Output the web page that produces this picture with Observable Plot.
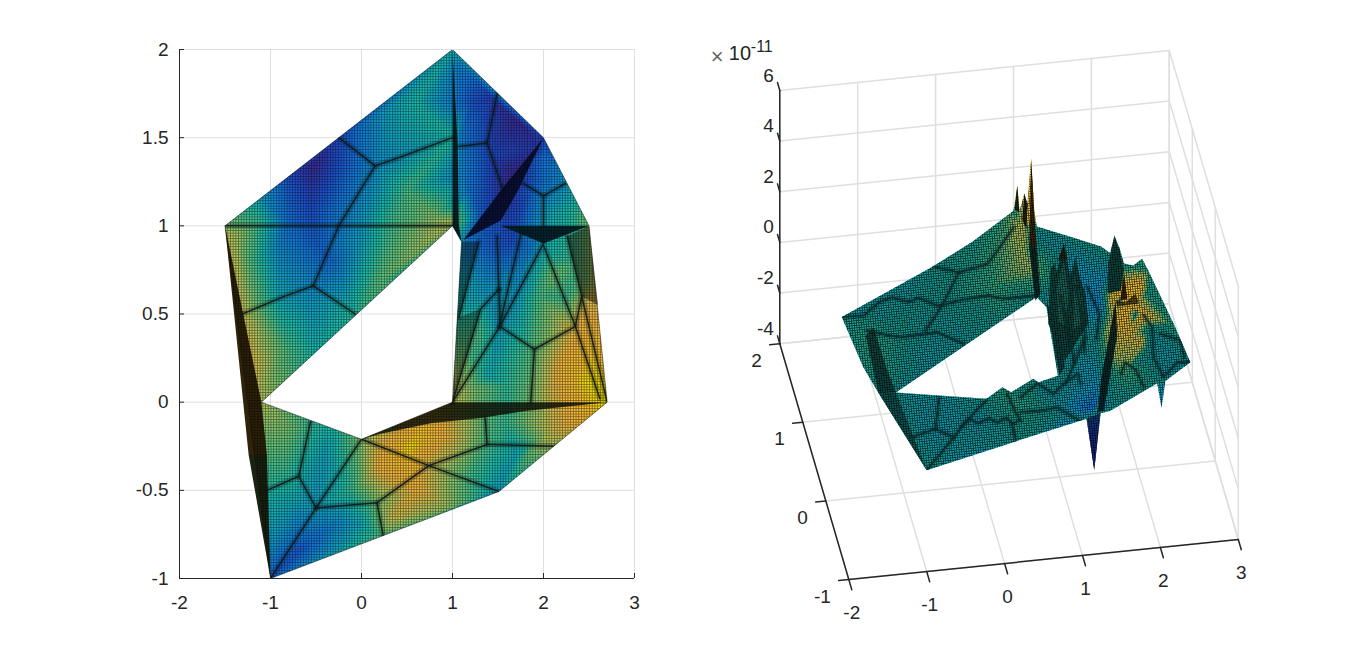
<!DOCTYPE html>
<html><head><meta charset="utf-8">
<script src="https://cdn.jsdelivr.net/npm/d3@7"></script>
<script src="https://cdn.jsdelivr.net/npm/@observablehq/plot@0.6"></script>
<style>html,body{margin:0;padding:0;background:#fff;overflow:hidden}#c{position:relative;width:1366px;height:652px}#c svg{position:absolute;top:0;background:transparent}</style>
</head><body><div id="c"></div>
<script>
// ---------- axes
const xTicks=[-2,-1,0,1,2,3];
const yTicksLeft=[-1,-0.5,0,0.5,1,1.5,2];
const yTicks3d=[-1,0,1,2];
const zTicks=[-4,-2,0,2,4,6];
// ---------- left panel: shape of the domain
const outlineLeft=[[-1.5,1],[1,2],[2,1.5],[2.5,1],[2.7,0],[1.51,-0.507],[-1,-1]];
const holeLeft=[[-1.1,0],[0,-0.21],[1,0],[1.1,0.91],[1,1]];
// left panel: scalar read at points of the domain (x, y, colour position)
const fieldLeft=[
[-1.5,1,.5],[-1.2,1.2,.3],[-.53,1.35,0],[-.8,1.3,.08],[-.56,1.1,.08],[-.25,1.5,.08],[.15,1.34,.22],[.3,1.67,.28],[1,2,.32],[.6,1.7,.35],[1,1.5,.35],[.5,1.2,.42],[.8,1.05,.5],[0,1.05,.25],[.3,1.02,.4],[1,1.02,.55],[-1.1,1.03,.38],[-.8,1.02,.15],
[-1.45,.93,.58],[-1.2,.8,.42],[-.9,.9,.2],[-.5,.9,.12],[-.3,.8,.15],[0,.9,.28],[.3,.9,.42],[.8,.95,.55],[.2,.68,.45],[-.07,.5,.38],[-.55,.6,.24],[-.9,.55,.32],[-1.3,.5,.58],[-1.2,.2,.62],[-.8,.3,.42],[-.5,.28,.34],[-1.1,.05,.55],
[-1.1,0,.55],[-.8,-.15,.48],[-.56,-.11,.4],[-.3,-.15,.34],[0,-.21,.5],[-.4,-.3,.28],[-.85,-.35,.42],[-1.04,-.5,.36],[-.7,-.55,.3],[-1,-.8,.25],[-1,-1,.12],[-.7,-.85,.1],[-.5,-.6,.27],[-.3,-.7,.2],[0,-.7,.3],[.24,-.76,.45],[.17,-.57,.48],[-.1,-.5,.4],[.21,-.36,.67],[.1,-.18,.55],[.54,-.25,.76],[.74,-.36,.6],[.62,-.49,.66],[.35,-.65,.6],[1,-.6,.5],[1.5,-.5,.28],[1.2,-.4,.42],[1.38,-.24,.42],[1.7,-.3,.3],[.95,-.2,.64],[.75,-.1,.7],[1.36,-.1,.45],[1.6,-.12,.4],[1.8,-.12,.48],[2.1,-.15,.6],[2.4,-.1,.68],
[2.7,0,.78],[2.45,.12,.76],[2.2,.2,.67],[2.3,.4,.62],[2.1,.1,.62],[1.9,.05,.5],[1.86,.3,.43],[1.6,.1,.38],[1.4,.15,.32],[1.2,.08,.5],[1.52,.4,.28],[1.7,.55,.28],[1.95,.6,.42],[2.1,.72,.48],[2,.85,.32],[1.75,.75,.22],[2.35,.43,.62],[2.45,.5,.65],[2.55,.3,.72],[2.6,.7,.55],[2.4,.8,.42],[2.5,.97,.48],[2.35,.9,.4],[2.25,.6,.4],
[1.2,.75,.25],[1.1,.85,.2],[1.1,.5,.35],[1.15,.3,.45],[1.3,.4,.42],[1.35,.65,.25],[1.45,.85,.12],[1.6,.8,.15],[1.65,.92,.08],[1.85,.85,.18],[1.05,.1,.55],
[1.05,1.9,.2],[1.2,1.7,.1],[1.45,1.72,.05],[1.7,1.6,0],[1.65,1.3,0],[1.95,1.45,.04],[1.4,1.4,.08],[1.1,1.5,.18],[1.2,1.2,.15],[1.1,1.3,.2],[1.4,1.2,.08],[1.3,1.05,.12],[1.55,1.15,.02],[1.75,1.1,.08],[1.9,1.25,.12],[2,1.4,.15],[2.15,1.3,.2],[2.05,1.05,.3],[2.3,1.1,.35],[2.45,1.03,.45],[2.2,1.25,.22],[1.6,1.02,.08],[2,1.5,.08]];
// left panel: thin collapsed strips of the mesh
const stripLeftEdgeUpper=[[-1.5,1],[-1.1,0],[-1.04,-.3],[-1.24,-.3]];
const stripLeftEdgeLower=[[-1.24,-.3],[-1.04,-.3],[-1,-1]];
const stripCentre=[[1,2],[1,1],[1.1,.91],[1.07,1],[1.055,1.48]];
const stripDiagonal=[[2,1.5],[1.53,1.2],[1.12,.92],[1.53,1.03],[1.72,1.2]];
const stripTop=[[1.53,1],[2.5,1],[2,.9]];
const stripBottom=[[0,-.21],[1,0],[2.7,0],[1.8,-.05],[1.31,-.09],[.76,-.12],[.2,-.18]];
const cellDarkA=[[1.1,.91],[1.29,.91],[1.07,.48],[1,0]];
const cellDarkB=[[1.07,.48],[1.31,.53],[1,0]];
const cellDarkC=[[2.26,.94],[2.5,1],[2.6,.55],[2.42,.6]];
// left panel: dark seams between the mesh blocks
const seamsLeft=[
[[-1.5,1],[1,1]],
[[-.25,1.5],[.15,1.34],[.43,1.39],[1,1.5]],
[[.15,1.34],[-.25,1],[-.53,.66]],
[[-1.31,.5],[-.85,.6],[-.53,.66],[-.07,.5]],
[[1.49,1.75],[1.38,1.47],[1.55,1.21]],
[[1.38,1.47],[1.07,1.45]],
[[1.78,1.24],[2,1.17],[2.24,1.24]],[[2,1.17],[2,1]],
[[2,.9],[1.52,.43],[1.9,.3],[2.35,.43],[2,.89]],
[[1.9,.3],[1.86,0]],[[1.52,.43],[1,0]],
[[1.51,.64],[1.52,.43]],[[1.49,.94],[1.51,.64]],[[1.29,.91],[1.07,.48]],[[1.75,.95],[1.51,.42]],
[[2.26,.94],[2.42,.6],[2.7,0]],[[2.42,.6],[2.35,.43],[2.62,.02]],
[[1.51,.64],[1.31,.53],[1,0]],
[[-.56,-.11],[-.69,-.42],[-1.04,-.5]],[[-.69,-.42],[-.5,-.6],[-1,-1]],
[[-.5,-.6],[0,-.21],[.74,-.36],[1.38,-.24],[1.36,-.09]],
[[-.5,-.6],[.17,-.57],[.24,-.76]],[[.17,-.57],[.74,-.36],[1.51,-.507]],
[[1.38,-.24],[2.15,-.25]]];
// ---------- right panel (x, y, z in units of 1e-11)
const outline3d=[[-1.5,1,0],[-.2,1.5,0],[.4,1.74,.08],[1,2,.3],[1.02,1.9,1.6],[1.02,1.8,.93],[1.05,1.7,1.9],[1.06,1.6,1.8],[1.05,1.4,4.2],[1.06,1.3,2.46],[1.26,1.87,0],[1.6,1.7,.06],[1.98,1.51,.1],[2.07,1.42,.1],[2.12,1.4,.83],[2.15,1.38,.42],[2.17,1.36,.48],[2.22,1.33,-.09],[2.3,1.2,.21],[2.4,1.15,.6],[2.45,1.05,.43],[2.585,.4,.3],[2.68,0,0],[2.3,-.2,0],[2.25,-.2,-1.05],[2.19,-.22,0],[1.5,-.5,0],[1.37,-.53,.04],[1.44,-.02,-3.8],[1.17,-.6,.1],[.3,-.74,0],[-1,-1,0],[-1.31,.05,-.1],[-1.43,.3,.17]];
const hole3d=[[-1.1,0,0],[1,1,0],[1.1,.91,-.15],[.98,0,0],[.72,-.03,-.08],[.65,-.05,.14],[.34,-.13,-.05],[.22,-.16,.28],[0,-.21,.05]];
const surface3d=[
[-1.3,1.1,-.2],[-.5,1.45,-.25],[-.3,1.6,-.2],[.1,1.65,.05],[.5,1.75,.2],[.9,1.9,.6],
[.3,1.35,.25],[.7,1.4,.7],[.95,1.5,1.2],[.98,1.75,1.6],[1.02,1.6,2.1],[1.0,1.45,2.6],[.9,1.2,1],[.95,1.05,.95],[.5,1.05,.55],[0,1.1,.08],[-.5,1.1,-.05],[-1,1.05,-.1],
[.5,.75,.1],[0,.7,-.1],[-.5,.5,-.2],[-.9,.25,-.1],[-1.05,.1,0],[-.9,.65,.1],[-1.2,.85,.15],[-1.3,.55,.4],[-1.2,.2,.3],
[-1,-.15,-.2],[-.5,-.3,-.35],[-.1,-.3,-.3],[-.8,-.7,-.3],[-1,-.95,-.4],[-.5,-.75,-.2],[0,-.5,-.2],[.3,-.6,.1],[.6,-.5,.1],[.3,-.3,.35],[.6,-.2,.1],[.9,-.45,-.2],[1.2,-.45,-.3],[.9,-.2,-.2],[.75,-.08,-.3],
[1.4,0,-1.4],[1.42,-.01,-2.5],[1.35,.25,-.5],[1.5,.1,-.7],[1.2,.3,-.3],
[1.75,.1,2.5],[1.9,.1,2.7],[2.05,.1,2.8],[1.85,.1,2.3],[2,.1,2.2],
[1.84,-.035,2.3],[1.72,-.03,2.1],[2.03,-.03,2.2],[1.85,-.155,1.9],[1.66,-.135,1.5],[2.02,-.17,1.5],[1.78,-.208,.6],[2.2,.25,-.1],[1.6,.4,-.1],
[1.7,-.2,.3],[1.9,-.3,.2],[1.55,-.4,-.1],
[2.3,.5,-.2],[2.5,.2,-.4],[2.35,.05,-.9],[2.55,.05,-.3],[2.4,.9,.1],[2.2,.7,-.1],[2.05,.95,-.3],
[1.6,1.3,-.7],[1.75,1.4,-.7],[1.9,1.3,-.9],[1.85,1.1,-1],[1.5,1.7,-.3],[1.3,1.8,-.3],[2.05,1.35,-.5],[1.3,.7,0]];
// right panel: raised ridges
const ridgeMainTop=[[1.05,1.4,4.2],[1.08,1.4,2.55],[1.06,1.2,1.3],[1.01,1.35,.94]];
const ridgeMainLow=[[1.01,1.35,.94],[1.06,1.2,1.3],[1.05,1,.12],[.97,.95,.02]];
const spikeBackA=[[1.02,1.9,1.6],[1.03,1.85,.7],[1,1.95,.5]];
const spikeBackB=[[1.05,1.7,1.9],[1.06,1.6,1.8],[1.05,1.6,.8],[1.03,1.72,.8]];
const peakCluster=[[1.12,.8,1.71],[1.17,.8,1.9],[1.2,.8,1.5],[1.25,.8,2.2],[1.29,.8,2.64],[1.33,.8,2],[1.37,.8,1.4],[1.4,.8,1.54],[1.44,.8,2.05],[1.5,.8,1.2],[1.57,.8,.58],[1.61,.8,-.62],[1.3,.8,-2],[1.09,.8,-.45]];
const peakClusterA=[[1.2,.8,1],[1.29,.8,1.9],[1.36,.8,.6],[1.3,.8,-.6],[1.22,.8,-.4]];
const peakClusterB=[[1.42,.8,1.3],[1.52,.8,.4],[1.55,.8,-.5],[1.42,.8,-.8]];
const peakClusterTip=[[1.22,.8,2],[1.29,.8,2.64],[1.34,.8,2]];
const peakBack=[[1.98,1.2,.39],[2.06,1.2,1.47],[2.12,1.2,.98],[2.18,1.2,.05],[2.14,1.2,-.72],[1.97,1.2,-.79]];
const bandColumn=[[1.75,.1,2.42],[1.68,.1,1.26],[1.56,.1,-.68],[1.52,.1,-1.93],[1.6,.1,-1.88],[1.77,.1,1.02]];
const columnSpike=[[1.81,.1,2.4],[1.855,.1,3.44],[1.9,.1,2.45]];
const columnCap=[[1.75,.1,2.42],[1.88,.1,2.31],[2.005,.1,2.6],[2.05,.1,2.2],[1.77,.1,2.17]];
const stripHoleRight=[[1.1,.91,0],[1.18,.7,0],[1.1,.1,0],[1,0,0]];
const wedgeLeftUpper=[[-1.27,.74,0],[-1.14,.83,0],[-1.13,.32,0],[-1.1,0,0],[-1.31,.05,-.1]];
const wedgeLeftLower=[[-1.31,.05,-.1],[-1.1,0,0],[-1,-1,0]];
const spikeDown=[[1.44,-.02,-3.8],[1.37,-.53,.04],[1.17,-.6,.1]];
// right panel: jagged seams
const seams3d=[
[[-1.5,1,0],[-1.22,.99,0],[-.984,1.135,0],[-.8,1.18,0],[-.61,1.1,0],[-.47,1.14,0],[-.25,1.01,0],[.02,1.055,0],[.39,1.08,0],[.586,1.02,0],[1,1.02,0]],
[[-.206,1.52,0],[.122,1.4,0],[.507,1.47,0],[.79,1.72,0],[.97,1.89,0]],
[[.122,1.4,0],[-.206,1.015,0],[-.505,.727,0]],
[[-1.23,.8,0],[-1.08,.743,0],[-.84,.676,0],[-.67,.68,0],[-.366,.69,0],[-.077,.515,0]],
[[-.586,-.126,0],[-.74,-.5,0],[-1.06,-.574,0]],[[-.74,-.5,0],[-.54,-.627,0],[-1,-1,0]],
[[-.54,-.627,0],[-.455,-.55,0],[-.27,-.42,0],[-.2,-.49,0],[-.04,-.44,0],[.05,-.5,0],[.19,-.45,0],[.23,-.535,0],[.35,-.505,0],[.32,-.4,0],[.28,-.155,0]],
[[0,-.21,0],[-.42,-.51,0]],[[.23,-.535,0],[.22,-.74,0]],
[[.435,-.22,0],[.693,-.07,0],[.86,-.22,0],[1.02,-.107,0],[1.24,0,0],[1.23,-.128,0]],
[[.38,-.4,0],[.636,-.41,0],[.856,-.39,0],[1.11,-.6,0]],
[[1.77,-.055,0],[1.87,.08,0],[1.97,-.03,0],[2.01,-.25,0]],
[[2.27,.635,0],[2.33,.48,0],[2.24,.11,0],[2.29,-.15,0],[2.52,.016,0],[2.68,0,0]],
[[2.41,.39,0],[2.64,.28,0],[2.62,.07,0]],
[[1.46,.44,0],[1.045,-.109,0]],
[[1.22,.7,.9],[1.3,.5,-.5],[1.25,.2,-.2]],[[1.45,.8,.9],[1.5,.6,-.3],[1.42,.35,-.3]],[[1.7,1.15,-.3],[1.75,.8,-.3],[1.62,.5,-.3]]];

// ---------- palette
const stopsLeft=[0,.08,.15,.25,.35,.45,.55,.65,.72,.78,1];
const stopsRight=[-4,-2.5,-1.4,-.8,0,.5,1,2,2.8,6];
const colorsLeft=["#3a2c9a","#1f50d0","#1478e0","#10a0d0","#1cc0b0","#60c880","#b4c860","#f4b840","#f6c030","#f2e800","#f9fb0e"];
const colorsRight=["#3a2c9a","#1f50d0","#1478e0","#10a0d0","#12a098","#30b08a","#a8c868","#f0c040","#f8c838","#f9fb0e"];
const font={fontFamily:"'Liberation Sans',Arial,sans-serif",fontSize:"19px",background:"transparent",overflow:"visible"};
const ink="#262626",grid="#dfdfdf";

function meshDefs(id,period,rotate,alpha,width){
  return ()=>{
    const defs=d3.create("svg:defs");
    const p=defs.append("pattern").attr("id",id).attr("patternUnits","userSpaceOnUse").attr("width",period).attr("height",period);
    if(rotate) p.attr("patternTransform",`rotate(${rotate})`);
    p.append("path").attr("d",`M0 0H${period}M0 0V${period}`).attr("stroke","#000").attr("stroke-width",width).attr("stroke-opacity",alpha).attr("fill","none");
    return defs.node();
  };
}
function clipMarks(svg,id,d,labels){
  const cp=d3.select(svg).append("clipPath").attr("id",id);
  cp.append("path").attr("d",d).attr("clip-rule","evenodd");
  labels.forEach(l=>svg.querySelectorAll(`[aria-label="${l}"]`).forEach(n=>n.setAttribute("clip-path",`url(#${id})`)));
}
const shadeLabel=()=>"shade";

// ---------- left plot
const poly=(pts,fill,opacity=1)=>Plot.line(pts,{x:d=>d[0],y:d=>d[1],fill,fillOpacity:opacity,stroke:"none"});
const left=Plot.plot({
  width:660,height:652,marginLeft:179,marginRight:26,marginTop:49,marginBottom:74,style:font,
  x:{domain:[-2,3]},y:{domain:[-1,2]},
  color:{type:"linear",domain:stopsLeft,range:colorsLeft,interpolate:"rgb",clamp:true},
  marks:[
    meshDefs("meshL",2.7,0,.58,1.3),
    Plot.ruleX(xTicks,{stroke:grid}),Plot.ruleY(yTicksLeft,{stroke:grid}),
    Plot.raster(fieldLeft,{x:d=>d[0],y:d=>d[1],fill:d=>d[2],interpolate:"barycentric"}),
    poly(cellDarkA,"#0a1408",.42),poly(cellDarkB,"#141408",.38),poly(cellDarkC,"#201404",.5),
    poly(stripBottom,"#12160a",.85),
    poly(stripDiagonal,"#0a0e30",.95),poly(stripTop,"#03202a",.96),poly(stripCentre,"#06262c"),
    poly(stripLeftEdgeUpper,"#2e2208"),poly(stripLeftEdgeLower,"#1a2210"),
    ...seamsLeft.map(s=>Plot.line(s,{x:d=>d[0],y:d=>d[1],stroke:"#0a1210",strokeOpacity:.22,strokeWidth:6,ariaLabel:shadeLabel})),
    Plot.frame({fill:"url(#meshL)",stroke:"none",ariaLabel:"mesh"}),
    ...seamsLeft.map(s=>Plot.line(s,{x:d=>d[0],y:d=>d[1],stroke:"#0e1a18",strokeOpacity:.9,strokeWidth:1.5,ariaLabel:shadeLabel})),
    Plot.line([...outlineLeft,outlineLeft[0]],{x:d=>d[0],y:d=>d[1],stroke:"#111",strokeOpacity:.6,strokeWidth:.8}),
    Plot.line([...holeLeft,holeLeft[0]],{x:d=>d[0],y:d=>d[1],stroke:"#111",strokeOpacity:.6,strokeWidth:.8}),
    Plot.ruleX([3],{stroke:grid}),Plot.ruleY([2],{stroke:grid}),
    Plot.ruleX([-2],{stroke:ink}),Plot.ruleY([-1],{stroke:ink}),
    Plot.axisX(xTicks,{anchor:"bottom",tickSize:-5,tickPadding:22,tickFormat:d=>String(d),color:ink,label:null}),
    Plot.axisY(yTicksLeft,{anchor:"left",tickSize:-5,tickPadding:16,tickFormat:d=>String(d),color:ink,label:null})
  ]});
{
  const X=left.scale("x").apply,Y=left.scale("y").apply;
  const ring=r=>"M"+r.map(p=>X(p[0])+" "+Y(p[1])).join("L")+"Z";
  clipMarks(left,"clipL",ring(outlineLeft)+ring(holeLeft),["raster","mesh","shade"]);
}
left.style.left="0px";

// ---------- right plot: the view of the 3-D box read from its corners
const sx=d=>981.1+77.9*d[0]-23*d[1];
const sy=d=>383.1-8*d[0]-78.6*d[1]-25.33*d[2];
const seg=(a,b)=>[a,b];
const gridSegs=[
  ...zTicks.map(z=>seg([-2,2,z],[3,2,z])),...xTicks.map(x=>seg([x,2,-4],[x,2,6])),
  ...zTicks.map(z=>seg([3,2,z],[3,-1,z])),...yTicks3d.map(y=>seg([3,y,-4],[3,y,6])),
  ...xTicks.map(x=>seg([x,-1,-4],[x,2,-4])),...yTicks3d.map(y=>seg([-2,y,-4],[3,y,-4]))];
const axisSegs=[seg([-2,2,-4],[-2,2,6]),seg([-2,-1,-4],[3,-1,-4]),seg([-2,-1,-4],[-2,2,-4]),
  ...xTicks.map(x=>seg([x,-1,-4],[x,-1.13,-4])),...yTicks3d.map(y=>seg([-2,y,-4],[-2.13,y,-4])),...zTicks.map(z=>seg([-2,2,z],[-2,2.1,z]))];
const poly3=(pts,fill,opacity=1)=>Plot.line(pts,{x:sx,y:sy,fill,fillOpacity:opacity,stroke:"none"});
const lab=(rows,opts)=>Plot.text(rows,{x:sx,y:sy,text:d=>String(d[3]),fill:ink,fontSize:19,...opts});
const right=Plot.plot({
  width:706,height:652,marginLeft:0,marginRight:0,marginTop:0,marginBottom:0,style:font,
  x:{domain:[660,1366],range:[0,706],axis:null},y:{domain:[0,652],range:[0,652],axis:null},
  color:{type:"linear",domain:stopsRight,range:colorsRight,interpolate:"rgb",clamp:true},
  marks:[
    meshDefs("meshR",2.4,-6,.7,1.6),
    ...gridSegs.map(s=>Plot.line(s,{x:sx,y:sy,stroke:grid})),
    Plot.raster([...surface3d,...outline3d,...hole3d],{x:sx,y:sy,fill:d=>d[2],interpolate:"barycentric"}),
    poly3(stripHoleRight,"#0c3a3c",.85),poly3(wedgeLeftUpper,"#0d3c38",.85),poly3(wedgeLeftLower,"#0e4a48",.8),
    poly3(peakCluster,"#10483f",.95),poly3(peakClusterA,"#1f7060",.9),poly3(peakClusterB,"#1f7060",.9),poly3(peakClusterTip,"#2a2a12"),poly3(peakBack,"#0f4a44"),
    poly3(bandColumn,"#08282a",.95),poly3(columnSpike,"#3a2a10"),poly3(columnCap,"#4a3a14",.85),
    poly3(ridgeMainLow,"#0c2e2c"),poly3(ridgeMainTop,"#3a2a10"),
    poly3(spikeBackA,"#1e2a1a"),poly3(spikeBackB,"#22281a"),poly3(spikeDown,"#141e70",.75),
    ...seams3d.map(s=>Plot.line(s,{x:sx,y:sy,stroke:"#062020",strokeOpacity:.25,strokeWidth:5,ariaLabel:shadeLabel})),
    Plot.frame({fill:"url(#meshR)",stroke:"none",ariaLabel:"mesh"}),
    ...seams3d.map(s=>Plot.line(s,{x:sx,y:sy,stroke:"#0a2a2a",strokeOpacity:.9,strokeWidth:1.6,ariaLabel:shadeLabel})),
    ...axisSegs.map(s=>Plot.line(s,{x:sx,y:sy,stroke:ink})),
    lab(zTicks.map(z=>[-2,2,z,z]),{textAnchor:"end",dx:-6,dy:-15}),
    lab(yTicks3d.map(y=>[-2,y,-4,y]),{textAnchor:"end",dx:-18,dy:17}),
    lab(xTicks.map(x=>[x,-1,-4,x]),{dx:3,dy:33}),
    lab([[-2,2,6,"10"]],{textAnchor:"start",dx:-51,dy:-37,fontSize:20}),
    lab([[-2,2,6,"-11"]],{textAnchor:"start",dx:-29,dy:-44,fontSize:16}),
    lab([[-2,2,6,"×"]],{textAnchor:"start",dx:-69,dy:-33,fontSize:22,fill:"#666"})
  ]});
clipMarks(right,"clipR",[outline3d,hole3d].map(r=>"M"+r.map(p=>(sx(p)-660)+" "+sy(p)).join("L")+"Z").join(""),["raster","mesh","shade"]);
right.style.left="660px";
document.getElementById("c").append(left,right);
</script></body></html>
